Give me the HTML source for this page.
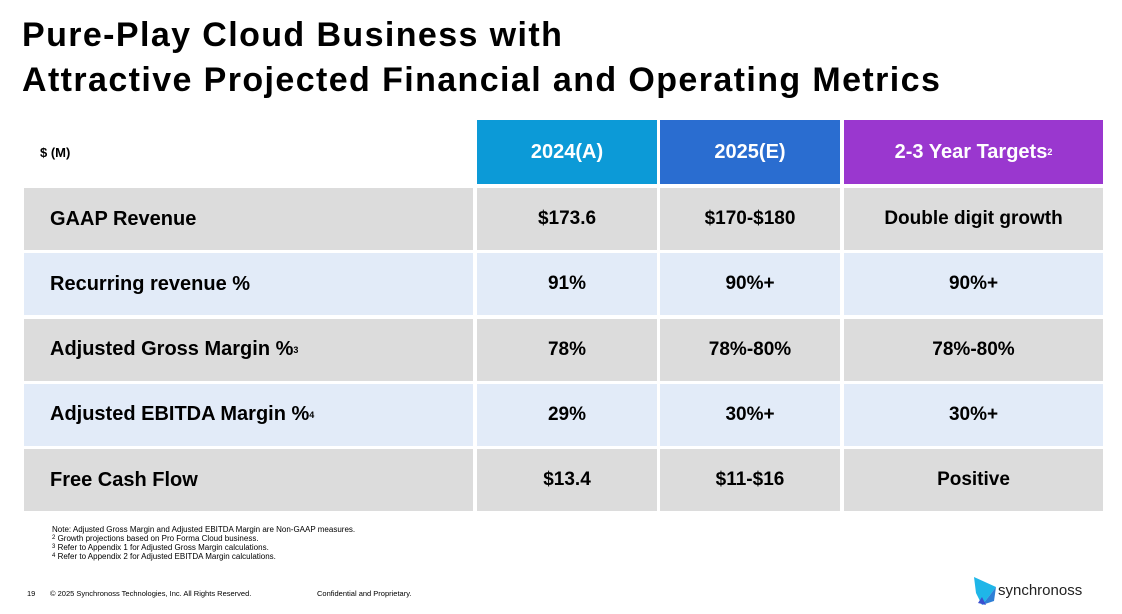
<!DOCTYPE html>
<html><head><meta charset="utf-8"><style>
body{margin:0;width:1122px;height:614px;background:#fff;font-family:"Liberation Sans",sans-serif;position:relative;overflow:hidden;color:#000}
.t{position:absolute;left:22px;font-weight:bold;font-size:34px;letter-spacing:1.4px}
.c{position:absolute;display:flex;align-items:center;font-weight:bold;font-size:19px}
.ctr{justify-content:center}
.g{background:#dcdcdc}.b{background:#e2ebf8}
.h{color:#fff;font-size:20px;justify-content:center}
sup{font-size:9px;vertical-align:8px}
.fn{position:absolute;left:52px;font-size:8px;line-height:9px}
.ft{position:absolute;top:589px;font-size:7.5px}
</style></head><body>
<div class="t" style="top:16px">Pure-Play Cloud Business with</div>
<div class="t" style="top:61px">Attractive Projected Financial and Operating Metrics</div>

<div class="c" style="left:40px;top:120px;height:64px;font-size:13px">$ (M)</div>
<div class="c h" style="left:477px;top:120px;width:180px;height:64px;background:#0c9ad7">2024(A)</div>
<div class="c h" style="left:660px;top:120px;width:180px;height:64px;background:#2a6dd0">2025(E)</div>
<div class="c h" style="left:844px;top:120px;width:259px;height:64px;background:#9a37cf">2-3 Year Targets<sup>2</sup></div>

<div id="rows"></div>

<div class="fn" style="top:525px">Note: Adjusted Gross Margin and Adjusted EBITDA Margin are Non-GAAP measures.<br><sup style="font-size:6px;vertical-align:2px">2</sup> Growth projections based on Pro Forma Cloud business.<br><sup style="font-size:6px;vertical-align:2px">3</sup> Refer to Appendix 1 for Adjusted Gross Margin calculations.<br><sup style="font-size:6px;vertical-align:2px">4</sup> Refer to Appendix 2 for Adjusted EBITDA Margin calculations.</div>
<div class="ft" style="left:27px">19</div>
<div class="ft" style="left:50px">© 2025 Synchronoss Technologies, Inc. All Rights Reserved.</div>
<div class="ft" style="left:317px">Confidential and Proprietary.</div>
<div style="position:absolute;left:972px;top:575px;width:120px;height:32px">
<svg width="28" height="32" style="position:absolute;left:0;top:0"><polygon points="2,2 24,12 18,20 10,30 4,18" fill="#1fb6e8"/><polygon points="10,30 18,20 24,12 22,26" fill="#2f7fd6"/><polygon points="6,28 14,30 10,22" fill="#3a4fd0"/></svg>
<span style="position:absolute;left:26px;top:7px;font-size:15px;color:#222">synchronoss</span></div>

<script>
const labels=["GAAP Revenue","Recurring revenue %","Adjusted Gross Margin %","Adjusted EBITDA Margin %","Free Cash Flow"];
const sups=["","","3","4",""];
const col2024=["$173.6","91%","78%","29%","$13.4"];
const col2025=["$170-$180","90%+","78%-80%","30%+","$11-$16"];
const colTarget=["Double digit growth","90%+","78%-80%","30%+","Positive"];
const wrap=document.getElementById('rows');
labels.forEach((l,i)=>{
  const top=188+i*65.3, cls=i%2?'b':'g';
  const cells=[[24,449,l+(sups[i]?'<sup>'+sups[i]+'</sup>':''),'label'],[477,180,col2024[i],'2024'],[660,180,col2025[i],'2025'],[844,259,colTarget[i],'target']];
  cells.forEach((c,j)=>{
    const d=document.createElement('div');
    d.className='c '+cls+(j?' ctr':'');
    d.style.cssText=`left:${c[0]}px;top:${top}px;width:${c[1]}px;height:62px;`+(j?'':'padding-left:26px;box-sizing:border-box;font-size:20px;');
    d.innerHTML=c[2];
    
    
    wrap.appendChild(d);
  });
});
</script>
</body></html>
